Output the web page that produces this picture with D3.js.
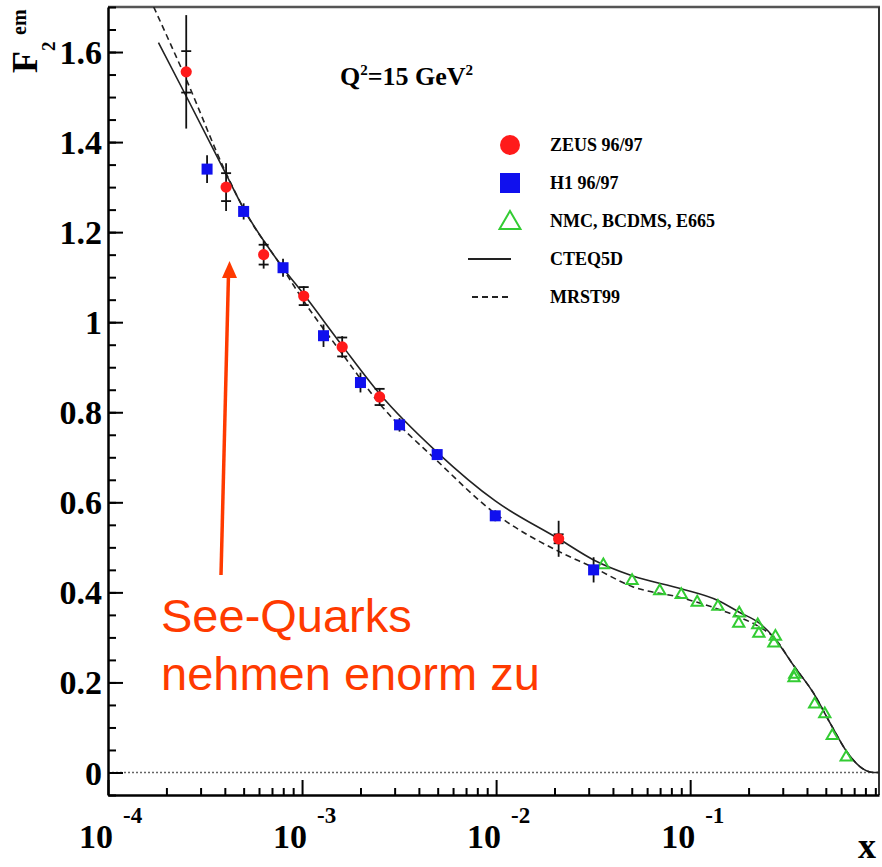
<!DOCTYPE html>
<html>
<head>
<meta charset="utf-8">
<script src="https://cdn.jsdelivr.net/npm/d3@7"></script>
<style>
  body { margin: 0; background: #fff; }
  .serif { font-family: "Liberation Serif", "Times New Roman", serif; font-weight: bold; }
</style>
</head>
<body>
<div class="chart"></div>
<script>
// values (x is Bjorken x, y is F2)
var zeusX = [2.53e-4, 4.06e-4, 6.34e-4, 1.02e-3, 1.61e-3, 2.51e-3, 0.0210];
var zeusY = [1.556, 1.300, 1.150, 1.058, 0.945, 0.834, 0.519];
var zeusErr = [0.126, 0.053, 0.031, 0.022, 0.024, 0.020, 0.040];
var zeusStat = [0.046, 0.031, 0.022, 0.020, 0.021, 0.018, 0.010];

var h1X = [3.24e-4, 5.0e-4, 7.98e-4, 1.29e-3, 2.0e-3, 3.18e-3, 4.97e-3, 9.9e-3, 0.0318];
var h1Y = [1.340, 1.246, 1.121, 0.970, 0.866, 0.772, 0.706, 0.570, 0.450];
var h1Err = [0.031, 0.018, 0.020, 0.025, 0.022, 0.015, 0.012, 0.012, 0.028];

var nmcX = [0.0357, 0.0502, 0.0697, 0.090, 0.1087, 0.139, 0.179, 0.178, 0.223, 0.226,
            0.275, 0.270, 0.346, 0.343, 0.438, 0.494, 0.540, 0.637];
var nmcY = [0.463, 0.428, 0.405, 0.397, 0.380, 0.371, 0.356, 0.333, 0.330, 0.311,
            0.304, 0.289, 0.220, 0.212, 0.154, 0.132, 0.084, 0.036];

var cteqX = [1.82e-4, 2.55e-4, 4.02e-4, 5.0e-4, 8.0e-4, 1.02e-3, 1.61e-3, 2.51e-3, 4.97e-3,
             9.9e-3, 0.021, 0.0318, 0.0502, 0.090, 0.139, 0.179, 0.230, 0.270, 0.342,
             0.434, 0.529, 0.644, 0.755, 0.884, 0.94];
var cteqY = [1.621, 1.499, 1.332, 1.252, 1.120, 1.062, 0.948, 0.841, 0.711,
             0.603, 0.519, 0.472, 0.437, 0.408, 0.382, 0.356, 0.330, 0.300, 0.237,
             0.175, 0.108, 0.045, 0.012, 0.0, 0.0];

var mrstX = [1.72e-4, 2.55e-4, 4.02e-4, 5.0e-4, 8.0e-4, 1.02e-3, 1.61e-3, 2.51e-3, 4.97e-3,
             9.9e-3, 0.021, 0.0318, 0.0502, 0.090, 0.139, 0.179, 0.230, 0.270, 0.342,
             0.434, 0.529, 0.644, 0.755, 0.884, 0.94];
var mrstY = [1.70, 1.536, 1.335, 1.252, 1.118, 1.047, 0.930, 0.819, 0.692,
             0.575, 0.491, 0.455, 0.413, 0.388, 0.363, 0.345, 0.322, 0.300, 0.237,
             0.175, 0.108, 0.045, 0.012, 0.0, 0.0];

var yMajor = [0, 0.2, 0.4, 0.6, 0.8, 1, 1.2, 1.4, 1.6];
var xDecades = [1e-4, 1e-3, 1e-2, 1e-1];
var xExponents = ["-4", "-3", "-2", "-1"];
var legendLabels = ["ZEUS 96/97", "H1 96/97", "NMC, BCDMS, E665", "CTEQ5D", "MRST99"];

var width = 882,
    height = 867;
var margin = {top: 7, right: 3, bottom: 72, left: 108};

var svg = d3.select(".chart")
  .append("svg")
    .attr("width", width)
    .attr("height", height);

var x = d3.scaleLog()
  .domain([1e-4, 0.94])
  .range([margin.left, width - margin.right]);

var y = d3.scaleLinear()
  .domain([-0.05, 1.7])
  .range([height - margin.bottom, margin.top]);

var red = "#ff1a1a", blue = "#1010ee", green = "#33cc33", annot = "#ff3a00";

svg.append("clipPath").attr("id", "plot")
  .append("rect")
    .attr("x", margin.left).attr("y", margin.top)
    .attr("width", width - margin.right - margin.left)
    .attr("height", height - margin.bottom - margin.top);

// frame: top and right
svg.append("line")
  .attr("x1", margin.left).attr("x2", width - margin.right + 1)
  .attr("y1", margin.top).attr("y2", margin.top)
  .attr("stroke", "#555").attr("stroke-width", 2.5);
svg.append("line")
  .attr("x1", width - margin.right).attr("x2", width - margin.right)
  .attr("y1", margin.top).attr("y2", height - margin.bottom)
  .attr("stroke", "#333").attr("stroke-width", 2);

// zero line
svg.append("line")
  .attr("x1", margin.left).attr("x2", width - margin.right)
  .attr("y1", y(0)).attr("y2", y(0))
  .attr("stroke", "#666").attr("stroke-width", 1.5)
  .attr("stroke-dasharray", "2,2");

// y axis
var yMinor = d3.range(-0.05, 1.701, 0.05).map(function(v) { return Math.round(v * 100) / 100; });
svg.append("g")
  .attr("transform", "translate(" + margin.left + ",0)")
  .call(d3.axisLeft(y).tickValues(yMinor).tickSize(-8).tickSizeOuter(0).tickFormat(""))
  .call(function(g) { g.selectAll("line").attr("stroke-width", 2); g.select(".domain").attr("stroke-width", 2.5); });

svg.append("g")
  .attr("transform", "translate(" + margin.left + ",0)")
  .call(d3.axisLeft(y).tickValues(yMajor).tickSize(-15).tickSizeOuter(0).tickPadding(6)
    .tickFormat(d3.format("~g")))
  .call(function(g) {
    g.select(".domain").remove();
    g.selectAll("line").attr("stroke-width", 2);
    g.selectAll("text").attr("class", "serif").style("font-size", "34px").attr("dy", "0.34em");
  });

// x axis
var xMinor = [];
xDecades.forEach(function(d) {
  for (var k = 2; k <= 9; k++) if (d * k <= 0.94) xMinor.push(d * k);
});
svg.append("g")
  .attr("transform", "translate(0," + (height - margin.bottom) + ")")
  .call(d3.axisBottom(x).tickValues(xMinor).tickSize(-7).tickSizeOuter(0).tickFormat(""))
  .call(function(g) { g.selectAll("line").attr("stroke-width", 2); g.select(".domain").attr("stroke-width", 2.5); });

svg.append("g")
  .attr("transform", "translate(0," + (height - margin.bottom) + ")")
  .call(d3.axisBottom(x).tickValues(xDecades).tickSize(-15).tickSizeOuter(0).tickFormat(""))
  .call(function(g) { g.select(".domain").remove(); g.selectAll("line").attr("stroke-width", 2); });

var xl = svg.append("g").attr("class", "serif");
xDecades.forEach(function(d, i) {
  xl.append("text")
    .attr("x", x(d) + 5).attr("y", 848)
    .attr("text-anchor", "end")
    .style("font-size", "34px")
    .text("10");
  xl.append("text")
    .attr("x", x(d) + 15).attr("y", 823)
    .style("font-size", "23px")
    .text(xExponents[i]);
});

svg.append("text")
  .attr("class", "serif")
  .attr("x", 876).attr("y", 858)
  .attr("text-anchor", "end")
  .style("font-size", "36px")
  .text("x");

// y label F2^em
var yl = svg.append("g")
  .attr("class", "serif")
  .attr("transform", "translate(37,73) rotate(-90)");
yl.append("text").attr("x", 0).attr("y", 0).style("font-size", "36px").text("F");
yl.append("text").attr("x", 22).attr("y", 18).style("font-size", "19px").text("2");
yl.append("text").attr("x", 38).attr("y", -11).style("font-size", "20px").text("em");

// title
var t = svg.append("text")
  .attr("class", "serif")
  .attr("x", 340).attr("y", 85)
  .style("font-size", "26px");
t.append("tspan").text("Q");
t.append("tspan").attr("dy", -10).style("font-size", "15px").text("2");
t.append("tspan").attr("dy", 10).text("=15 GeV");
t.append("tspan").attr("dy", -10).style("font-size", "15px").text("2");

// curves
var plot = svg.append("g").attr("clip-path", "url(#plot)");

var line = d3.line()
  .x(function(d) { return x(d[0]); })
  .y(function(d) { return y(d[1]); })
  .curve(d3.curveMonotoneX);

plot.append("path")
  .datum(d3.zip(mrstX, mrstY))
  .attr("d", line)
  .attr("fill", "none")
  .attr("stroke", "#222")
  .attr("stroke-width", 1.6)
  .attr("stroke-dasharray", "6,4");

plot.append("path")
  .datum(d3.zip(cteqX, cteqY))
  .attr("d", line)
  .attr("fill", "none")
  .attr("stroke", "#222")
  .attr("stroke-width", 1.6);

// error bars (ZEUS: total error line with ticks at the statistical error)
function errorBars(xs, ys, errs, stats) {
  xs.forEach(function(xv, i) {
    var cx = x(xv);
    plot.append("line")
      .attr("x1", cx).attr("x2", cx)
      .attr("y1", y(ys[i] + errs[i])).attr("y2", y(ys[i] - errs[i]))
      .attr("stroke", "#111").attr("stroke-width", 1.8);
    if (!stats) return;
    [ys[i] + stats[i], ys[i] - stats[i]].forEach(function(v) {
      plot.append("line")
        .attr("x1", cx - 5).attr("x2", cx + 5)
        .attr("y1", y(v)).attr("y2", y(v))
        .attr("stroke", "#111").attr("stroke-width", 1.8);
    });
  });
}
errorBars(zeusX, zeusY, zeusErr, zeusStat);
errorBars(h1X, h1Y, h1Err, null);

// markers
var tri = d3.symbol().type(d3.symbolTriangle).size(55);
plot.selectAll(".nmc")
  .data(d3.zip(nmcX, nmcY))
  .enter()
  .append("path")
  .attr("d", tri)
  .attr("transform", function(d) { return "translate(" + x(d[0]) + "," + (y(d[1]) + 1) + ")"; })
  .attr("fill", "none")
  .attr("stroke", green)
  .attr("stroke-width", 2);

plot.selectAll(".h1")
  .data(d3.zip(h1X, h1Y))
  .enter()
  .append("rect")
  .attr("x", function(d) { return x(d[0]) - 5.5; })
  .attr("y", function(d) { return y(d[1]) - 5.5; })
  .attr("width", 11).attr("height", 11)
  .attr("fill", blue);

plot.selectAll(".zeus")
  .data(d3.zip(zeusX, zeusY))
  .enter()
  .append("circle")
  .attr("cx", function(d) { return x(d[0]); })
  .attr("cy", function(d) { return y(d[1]); })
  .attr("r", 5.6)
  .attr("fill", red);

// legend
var leg = svg.append("g");
var rowY = function(i) { return 145 + i * 38; };
leg.append("circle").attr("cx", 510).attr("cy", rowY(0)).attr("r", 10).attr("fill", red);
leg.append("rect").attr("x", 500).attr("y", rowY(1) - 10).attr("width", 20).attr("height", 20).attr("fill", blue);
leg.append("path")
  .attr("d", d3.symbol().type(d3.symbolTriangle).size(190))
  .attr("transform", "translate(510," + (rowY(2) + 2) + ")")
  .attr("fill", "none").attr("stroke", green).attr("stroke-width", 2);
leg.append("line").attr("x1", 468).attr("x2", 511).attr("y1", rowY(3)).attr("y2", rowY(3))
  .attr("stroke", "#222").attr("stroke-width", 2);
leg.append("line").attr("x1", 472).attr("x2", 511).attr("y1", rowY(4)).attr("y2", rowY(4))
  .attr("stroke", "#222").attr("stroke-width", 2).attr("stroke-dasharray", "6,4");
leg.selectAll("text")
  .data(legendLabels)
  .enter()
  .append("text")
  .attr("class", "serif")
  .attr("x", 550)
  .attr("y", function(d, i) { return rowY(i) + 6; })
  .style("font-size", "18px")
  .text(function(d) { return d; });

// annotation
svg.append("line")
  .attr("x1", 221).attr("y1", 575)
  .attr("x2", 228.5).attr("y2", 274)
  .attr("stroke", annot).attr("stroke-width", 3.5);
svg.append("path")
  .attr("d", "M229.5,261 L237,278 L222,278 Z")
  .attr("fill", annot);
var a = svg.append("g")
  .style("font-family", "'Liberation Sans', Arial, sans-serif")
  .style("font-size", "47px")
  .attr("fill", annot);
a.append("text").attr("x", 161).attr("y", 632).text("See-Quarks");
a.append("text").attr("x", 161).attr("y", 690).text("nehmen enorm zu");
</script>
</body>
</html>
